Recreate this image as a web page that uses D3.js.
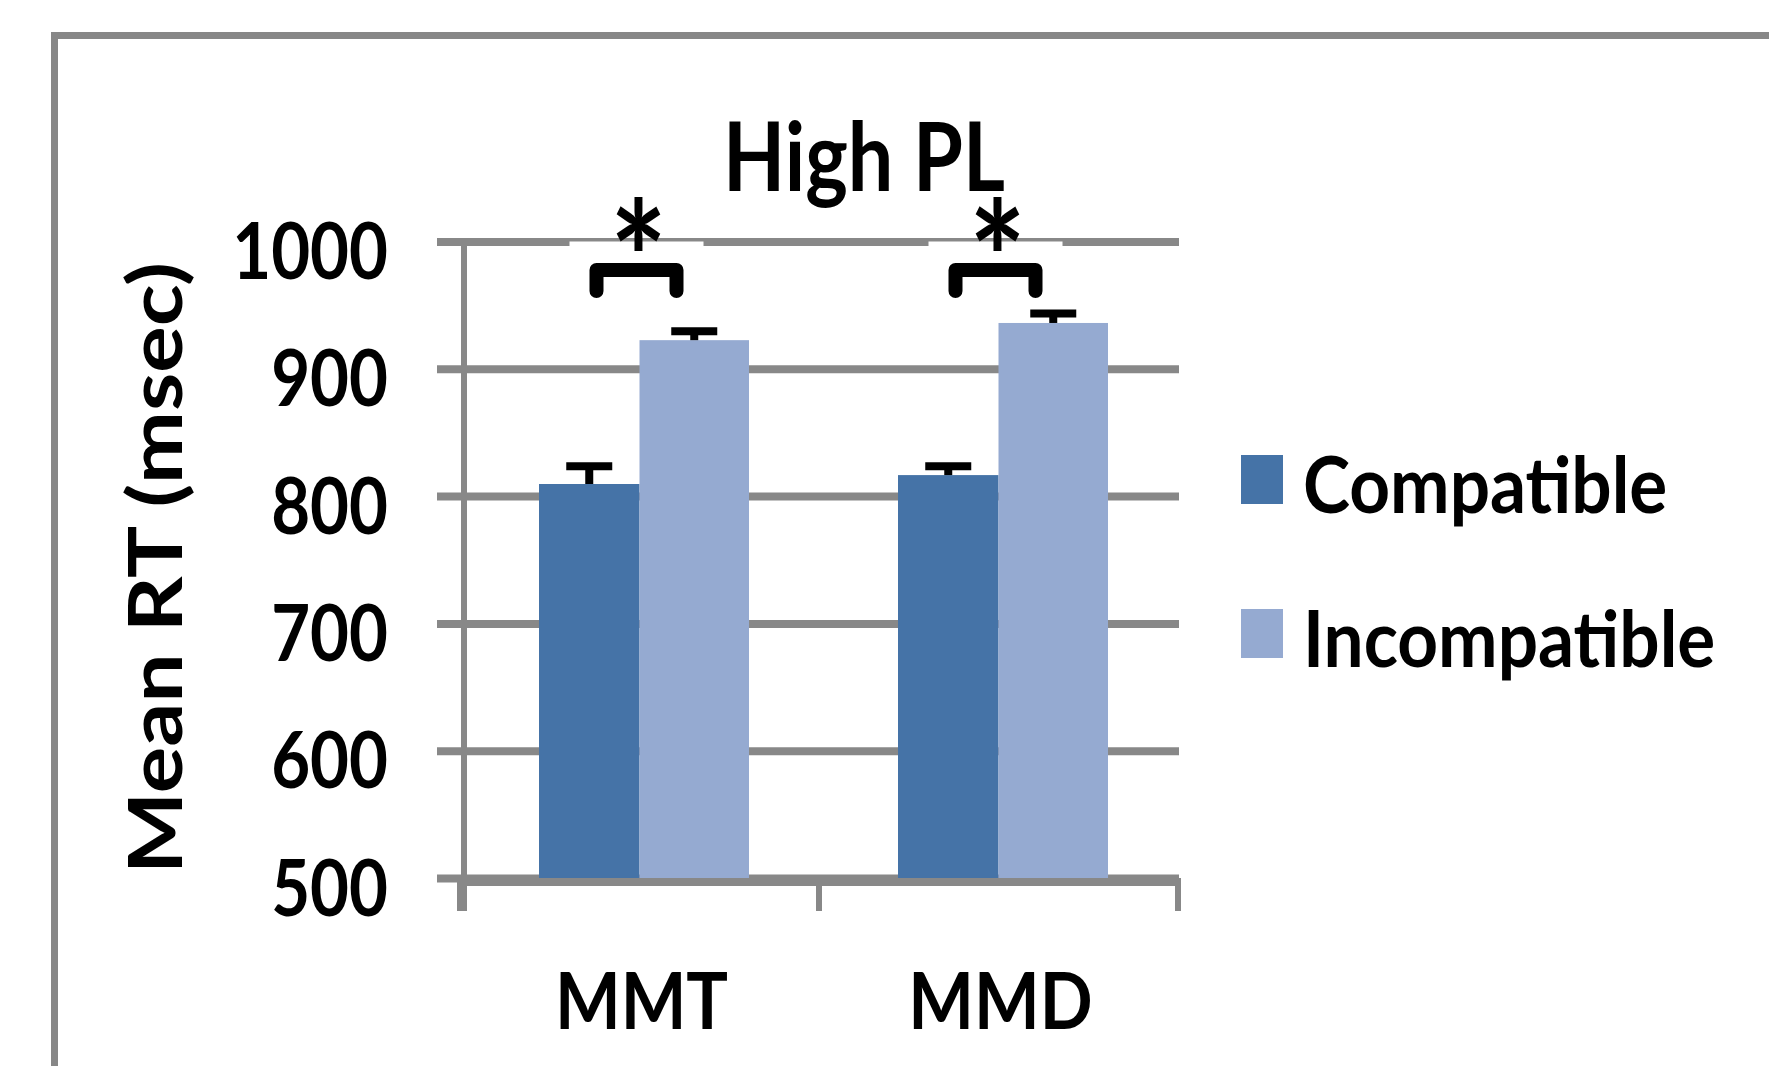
<!DOCTYPE html>
<html>
<head>
<meta charset="utf-8">
<script src="https://cdn.jsdelivr.net/npm/d3@7"></script>
<style>
  html, body { margin: 0; padding: 0; background: #fff; }
  svg { display: block; }
  text { font-family: Lato, "Open Sans", sans-serif; font-weight: 700; fill: #000; }
</style>
</head>
<body>
<svg id="chart" width="1769" height="1066"></svg>
<script>
// ---- data ----
const title = "High PL";
const categories = ["MMT", "MMD"];
const series = ["Compatible", "Incompatible"];
const compatible = [809.5, 816.5];
const incompatible = [922.5, 936];
const compatibleErr = [14, 7];
const incompatibleErr = [7, 7.5];
const yTicks = [500, 600, 700, 800, 900, 1000];
const significance = ["*", "*"];
const yTitle = "Mean RT (msec)";
const colors = ["#4573A7", "#95AAD1"];

// ---- layout ----
const SX = 0.85;            // horizontal squash of the original figure
const grey = "#888888";
const svg = d3.select("#chart");

const axisX = 464, plotRight = 1179, gridLeft = 437;
const y = d3.scaleLinear().domain([500, 1000]).range([878, 241.5]);
const x0 = d3.scaleBand().domain(categories).range([460, 1178]).padding(0);
const color = d3.scaleOrdinal().domain(series).range(colors);
// bar extents relative to the group centre
const x1 = d3.scaleOrdinal().domain(series).range([[-100.5, 0], [0, 109.5]]);
const centre = c => x0(c) + x0.bandwidth() / 2;
const annot = c => centre(c) - 3;

// outer frame
svg.append("rect")
  .attr("x", 54.5).attr("y", 35.5).attr("width", 1800).attr("height", 1100)
  .attr("fill", "none").attr("stroke", "#878787").attr("stroke-width", 7);

// y axis with gridlines
const yAxis = d3.axisLeft(y).tickValues(yTicks).tickSize(-(plotRight - axisX)).tickFormat(d => d);
const gy = svg.append("g").attr("transform", `translate(${axisX},0)`).call(yAxis);
gy.select(".domain").remove();
gy.selectAll(".tick line")
  .attr("x1", gridLeft - axisX).attr("x2", plotRight - axisX)
  .attr("stroke", grey).attr("stroke-width", 8);
gy.selectAll(".tick text")
  .attr("x", null).attr("dy", null)
  .attr("transform", `translate(${388 - axisX},37) scale(${SX},1)`)
  .attr("text-anchor", "end")
  .style("font-size", "79px")
  .style("font-family", "Lato, 'Open Sans', sans-serif")
  .style("font-weight", 700)
  .attr("fill", "#000");

// vertical axis line
svg.append("line")
  .attr("x1", axisX).attr("x2", axisX).attr("y1", 238).attr("y2", 911)
  .attr("stroke", grey).attr("stroke-width", 6);

// x axis line + category-boundary ticks
svg.append("line")
  .attr("x1", axisX).attr("x2", 1181).attr("y1", 882).attr("y2", 882)
  .attr("stroke", grey).attr("stroke-width", 8);
const boundaries = categories.map(c => x0(c)).concat([x0(categories[categories.length - 1]) + x0.bandwidth()]);
svg.append("g").selectAll("line").data(boundaries).join("line")
  .attr("x1", d => d).attr("x2", d => d).attr("y1", 882).attr("y2", 911)
  .attr("stroke", grey).attr("stroke-width", 6);

// x labels via axis
const xAxis = d3.axisBottom(x0).tickSize(0);
const gx = svg.append("g").attr("transform", "translate(0,882)").call(xAxis);
gx.select(".domain").remove();
gx.selectAll(".tick text")
  .attr("y", null).attr("dy", null)
  .attr("transform", `translate(2,147) scale(0.88,1)`)
  .attr("text-anchor", "middle")
  .style("font-size", "79px")
  .style("font-family", "Lato, 'Open Sans', sans-serif")
  .style("font-weight", 700)
  .attr("fill", "#000");

// bars
const rows = [];
categories.forEach((c, i) => {
  rows.push({ cat: c, s: series[0], v: compatible[i], e: compatibleErr[i] });
  rows.push({ cat: c, s: series[1], v: incompatible[i], e: incompatibleErr[i] });
});
svg.append("g").selectAll("rect").data(rows).join("rect")
  .attr("x", d => centre(d.cat) + x1(d.s)[0])
  .attr("width", d => x1(d.s)[1] - x1(d.s)[0])
  .attr("y", d => y(d.v))
  .attr("height", d => y(500) - y(d.v))
  .attr("fill", d => color(d.s));

// error bars
const eb = svg.append("g");
const bc = d => centre(d.cat) + (x1(d.s)[0] + x1(d.s)[1]) / 2;
eb.selectAll("line.stem").data(rows).join("line").attr("class", "stem")
  .attr("x1", bc).attr("x2", bc)
  .attr("y1", d => y(d.v)).attr("y2", d => y(d.v + d.e))
  .attr("stroke", "#000").attr("stroke-width", 8);
eb.selectAll("line.cap").data(rows).join("line").attr("class", "cap")
  .attr("x1", d => bc(d) - 23).attr("x2", d => bc(d) + 23)
  .attr("y1", d => y(d.v + d.e)).attr("y2", d => y(d.v + d.e))
  .attr("stroke", "#000").attr("stroke-width", 8);

// significance annotations
const sig = svg.append("g").selectAll("g").data(categories).join("g");
sig.append("rect")
  .attr("x", c => annot(c) - 67).attr("width", 134)
  .attr("y", y(1000)).attr("height", 18)
  .attr("fill", "#fff");
sig.append("path")
  .attr("d", c => `M${annot(c) - 40},291 V270 H${annot(c) + 40} V291`)
  .attr("fill", "none").attr("stroke", "#000").attr("stroke-width", 14)
  .attr("stroke-linejoin", "round").attr("stroke-linecap", "round");
sig.append("text")
  .attr("transform", c => `translate(${annot(c) + 2},318) scale(${SX},1)`)
  .attr("text-anchor", "middle")
  .style("font-size", "159px")
  .text((c, i) => significance[i]);

// title
svg.append("text")
  .attr("transform", `translate(864,191) scale(${SX},1)`)
  .attr("text-anchor", "middle")
  .style("font-size", "95px")
  .text(title);

// y title
svg.append("text")
  .attr("transform", `translate(182,568) scale(${SX},1) rotate(-90)`)
  .attr("text-anchor", "middle")
  .style("font-size", "87px")
  .text(yTitle);

// legend
const lg = svg.append("g").selectAll("g").data(series).join("g")
  .attr("transform", (d, i) => `translate(1241,${455 + i * 154})`);
lg.append("rect").attr("width", 42).attr("height", 49).attr("fill", d => color(d));
lg.append("text")
  .attr("transform", `translate(62,58) scale(0.9,1)`)
  .style("font-size", "79px")
  .text(d => d);
</script>
</body>
</html>
